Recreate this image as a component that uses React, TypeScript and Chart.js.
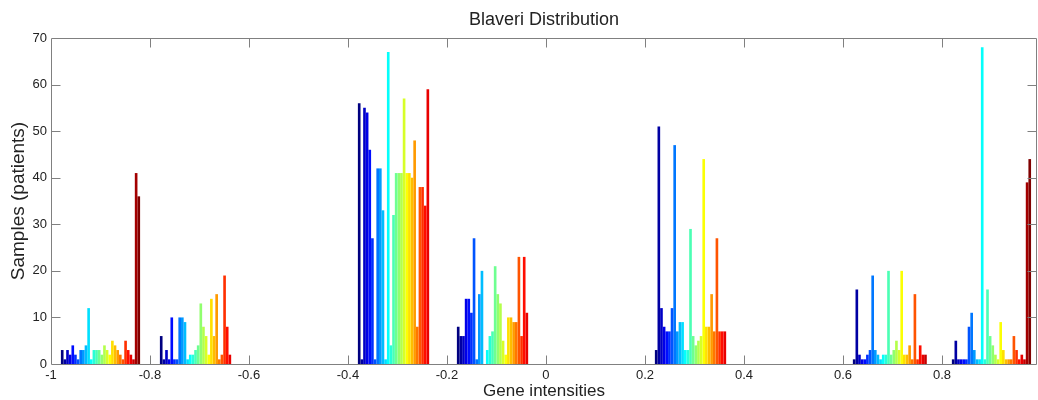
import React, { useEffect, useRef } from "react";
import { Chart, registerables } from "chart.js";

Chart.register(...registerables);

// Histogram bin centres (x) – one group of coloured bars per bin
const binCenters = [-0.9, -0.7, -0.5, -0.3, -0.1, 0.1, 0.3, 0.5, 0.7, 0.9];

// Counts per bin: one value per series (30 series, jet colour order)
const countsM09 = [3, 1, 3, 2, 4, 2, 1, 3, 3, 4, 12, 1, 3, 3, 3, 2, 4, 3, 2, 5, 4, 3, 2, 1, 5, 3, 2, 1, 41, 36];
const countsM07 = [6, 1, 3, 1, 10, 1, 1, 10, 10, 9, 1, 2, 2, 3, 4, 13, 8, 6, 2, 14, 6, 15, 1, 2, 19, 8, 2, 0, 0, 0];
const countsM05 = [0, 0, 0, 0, 0, 0, 0, 0, 0, 0, 0, 0, 0, 0, 0, 0, 0, 0, 0, 0, 0, 0, 0, 0, 0, 0, 0, 0, 0, 0];
const countsM03 = [56, 1, 55, 54, 46, 27, 1, 42, 42, 33, 1, 67, 4, 32, 41, 41, 41, 57, 41, 41, 40, 48, 8, 38, 38, 34, 59, 0, 0, 0];
const countsM01 = [8, 6, 6, 14, 14, 11, 27, 1, 15, 20, 0, 3, 6, 7, 21, 15, 13, 5, 2, 10, 10, 9, 9, 23, 6, 23, 11, 0, 0, 0];
const countsP01 = [0, 0, 0, 0, 0, 0, 0, 0, 0, 0, 0, 0, 0, 0, 0, 0, 0, 0, 0, 0, 0, 0, 0, 0, 0, 0, 0, 0, 0, 0];
const countsP03 = [3, 51, 12, 8, 7, 7, 12, 47, 7, 9, 9, 3, 3, 29, 6, 4, 5, 6, 44, 8, 8, 15, 7, 27, 7, 7, 7, 0, 0, 0];
const countsP05 = [0, 0, 0, 0, 0, 0, 0, 0, 0, 0, 0, 0, 0, 0, 0, 0, 0, 0, 0, 0, 0, 0, 0, 0, 0, 0, 0, 0, 0, 0];
const countsP07 = [1, 16, 2, 1, 1, 2, 3, 19, 3, 2, 1, 2, 2, 20, 2, 3, 5, 3, 20, 2, 2, 4, 1, 15, 1, 4, 2, 2, 0, 0];
const countsP09 = [1, 5, 1, 1, 1, 1, 8, 11, 3, 1, 1, 68, 1, 16, 6, 4, 2, 1, 9, 3, 1, 1, 1, 6, 3, 1, 2, 1, 39, 44];

const binCounts = [countsM09, countsM07, countsM05, countsM03, countsM01, countsP01, countsP03, countsP05, countsP07, countsP09];

// Axis ticks
const xTickValues = [-1, -0.8, -0.6, -0.4, -0.2, 0, 0.2, 0.4, 0.6, 0.8];
const xTickLabels = ["-1", "-0.8", "-0.6", "-0.4", "-0.2", "0", "0.2", "0.4", "0.6", "0.8"];
const yTickValues = [0, 10, 20, 30, 40, 50, 60, 70];

const titleText = "Blaveri Distribution";
const xTitleText = "Gene intensities";
const yTitleText = "Samples (patients)";

const FONT = '"Liberation Sans", Arial, Helvetica, sans-serif';
const TEXT = "#222222";
const FRAME = "#808080";

function clamp01(v: number) {
  return Math.max(0, Math.min(1, v));
}

// MATLAB "jet" colour map
function jet(t: number) {
  const r = clamp01(1.5 - Math.abs(4 * t - 3));
  const g = clamp01(1.5 - Math.abs(4 * t - 2));
  const b = clamp01(1.5 - Math.abs(4 * t - 1));
  return `rgb(${Math.round(r * 255)},${Math.round(g * 255)},${Math.round(b * 255)})`;
}

const framePlugin = {
  id: "matlabFrame",
  afterDatasetsDraw(chart: any) {
    const { ctx, chartArea, scales } = chart;
    const { left, right, top, bottom } = chartArea;
    const L = Math.round(left) + 0.5;
    const R = Math.round(right) - 0.5;
    const T = Math.round(top) + 0.5;
    const B = Math.round(bottom) + 0.5;
    const tick = 9;
    ctx.save();
    ctx.strokeStyle = FRAME;
    ctx.lineWidth = 1;
    ctx.beginPath();
    ctx.rect(L, T, R - L, B - T);
    xTickValues.forEach((v) => {
      const px = Math.round(scales.x.getPixelForValue(v)) + 0.5;
      if (px <= L + 1 || px >= R - 1) return;
      ctx.moveTo(px, B);
      ctx.lineTo(px, B - tick);
      ctx.moveTo(px, T);
      ctx.lineTo(px, T + tick);
    });
    yTickValues.forEach((v) => {
      const py = Math.round(scales.y.getPixelForValue(v)) + 0.5;
      if (py <= T + 1 || py >= B - 1) return;
      ctx.moveTo(L, py);
      ctx.lineTo(L + tick, py);
      ctx.moveTo(R, py);
      ctx.lineTo(R - tick, py);
    });
    ctx.stroke();

    ctx.fillStyle = TEXT;
    ctx.font = `18px ${FONT}`;
    ctx.textAlign = "center";
    ctx.textBaseline = "middle";
    ctx.fillText(titleText, (left + right) / 2, 20);
    ctx.restore();
  },
};

export default function App() {
  const canvasRef = useRef<HTMLCanvasElement | null>(null);

  useEffect(() => {
    const canvas = canvasRef.current;
    if (!canvas) return;
    const n = countsM09.length;
    const datasets = countsM09.map((_, i) => ({
      label: `Series ${i + 1}`,
      data: binCenters.map((c, k) => ({ x: c, y: binCounts[k][i] })),
      backgroundColor: jet(i / (n - 1)),
      borderWidth: 0,
      categoryPercentage: 0.8,
      barPercentage: 1,
    }));

    const chart = new Chart(canvas, {
      type: "bar",
      data: { datasets },
      options: {
        responsive: false,
        animation: false,
        devicePixelRatio: 1,
        layout: { padding: { top: 38, right: 1, left: 0, bottom: 0 } },
        plugins: {
          legend: { display: false },
          tooltip: { enabled: false },
          title: { display: false },
        },
        scales: {
          x: {
            type: "linear",
            min: -1,
            max: 0.992,
            offset: false,
            grid: { display: false, drawTicks: false },
            border: { display: false },
            afterBuildTicks: (s: any) => {
              s.ticks = xTickValues.map((v) => ({ value: v }));
            },
            afterFit: (s: any) => {
              s.height = 36;
            },
            ticks: {
              autoSkip: false,
              maxRotation: 0,
              padding: 4,
              color: TEXT,
              font: { size: 13, family: FONT },
              callback: (_v: any, i: number) => xTickLabels[i],
            },
            title: {
              display: true,
              text: xTitleText,
              color: TEXT,
              font: { size: 17, family: FONT, lineHeight: 1.08 },
              padding: { top: 0, bottom: 0 },
            },
          },
          y: {
            type: "linear",
            min: 0,
            max: 70,
            grid: { display: false, drawTicks: false },
            border: { display: false },
            afterBuildTicks: (s: any) => {
              s.ticks = yTickValues.map((v) => ({ value: v }));
            },
            afterFit: (s: any) => {
              s.width = 51;
            },
            ticks: {
              padding: 4,
              color: TEXT,
              font: { size: 13, family: FONT },
            },
            title: {
              display: true,
              text: yTitleText,
              color: TEXT,
              font: { size: 19, family: FONT },
              padding: { top: 7, bottom: 0 },
            },
          },
        },
      },
      plugins: [framePlugin],
    } as any);

    return () => chart.destroy();
  }, []);

  return (
    <div style={{ position: "absolute", left: 0, top: 0, width: 1038, height: 400, background: "#fff" }}>
      <canvas ref={canvasRef} width={1038} height={400} style={{ display: "block" }} />
    </div>
  );
}
